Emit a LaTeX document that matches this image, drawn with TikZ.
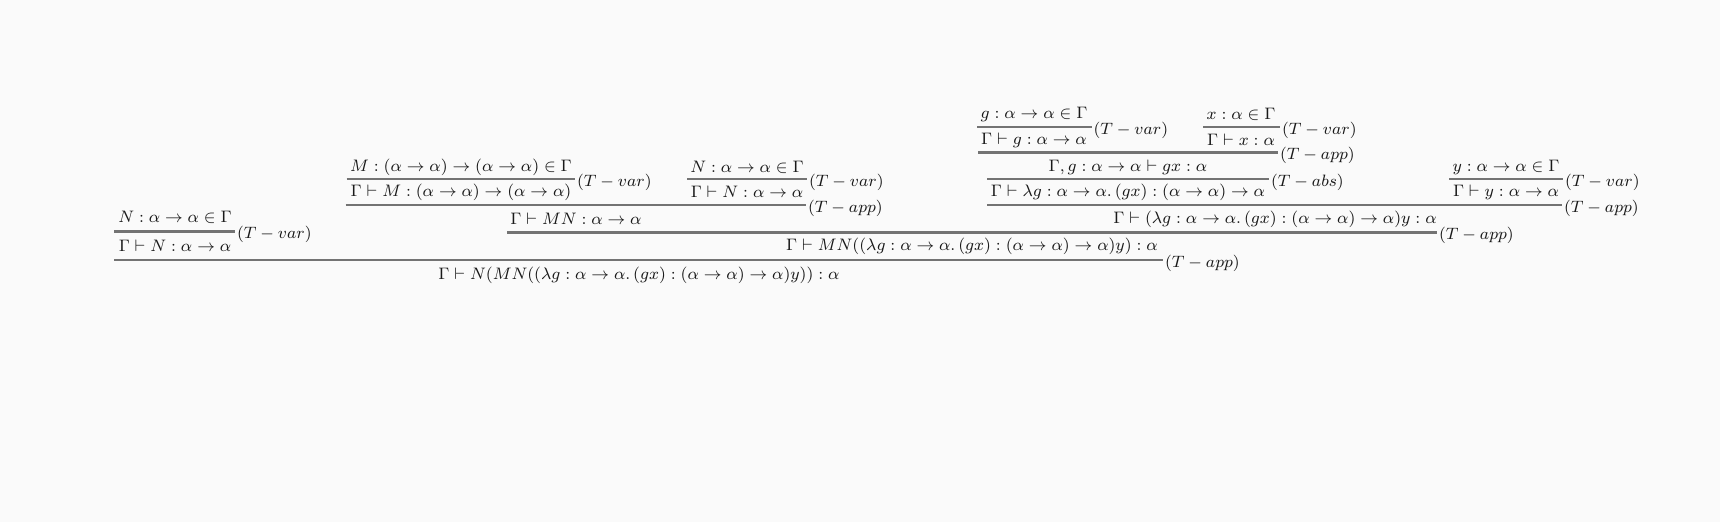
\documentclass[tikz,border=0pt]{standalone}
\usepackage{amsmath}
\usepackage{amssymb}
\usepackage{tikz}

\tikzset{
	formula/.style={inner sep=0pt, text=black!90, font=\fontsize{8}{10}\selectfont, scale=1.04},
	ruleline/.style={draw=black!55, line width=1.1pt},
	rulelabel/.style={anchor=west, inner sep=0pt, xshift=0.5pt, yshift=-1.5pt, text=black!90, font=\fontsize{8}{10}\selectfont, scale=1.03},
}

\begin{document}
\begin{tikzpicture}[x=0.5pt,y=-0.5pt]
		
		% background and size
		\fill[black!2] (0,0) rectangle (1720,522);
		
		% Node: left branch
		
		\node[formula]
		(nIn) at (175,217) {$N:\alpha\to\alpha\in\Gamma$};
		\node[formula]
		(nVar) at (175,246) {$\Gamma\vdash N:\alpha\to\alpha$};
		
		% Node: MN
		
		\node[formula]
		(mIn) at (461,167) {$M:(\alpha\to\alpha)\to(\alpha\to\alpha)\in\Gamma$};
		\node[formula]
		(mVar) at (461,192) {$\Gamma\vdash M:(\alpha\to\alpha)\to(\alpha\to\alpha)$};
		\node[formula]
		(nInB) at (747,167) {$N:\alpha\to\alpha\in\Gamma$};
		\node[formula]
		(nVarB) at (747,192) {$\Gamma\vdash N:\alpha\to\alpha$};
		\node[formula]
		(mnApp) at (576,219) {$\Gamma\vdash MN:\alpha\to\alpha$};
		
		% Node: lambda branch
		
		\node[formula]
		(gIn) at (1034,114) {$g:\alpha\to\alpha\in\Gamma$};
		\node[formula]
		(gVar) at (1034,140) {$\Gamma\vdash g:\alpha\to\alpha$};
		\node[formula]
		(xIn) at (1241,114) {$x:\alpha\in\Gamma$};
		\node[formula]
		(xVar) at (1241,140) {$\Gamma\vdash x:\alpha$};
		\node[formula]
		(gxApp) at (1128,167) {$\Gamma, g:\alpha\to\alpha\vdash gx:\alpha$};
		\node[formula]
		(lamAbs) at (1128,192) {$\Gamma\vdash\lambda g:\alpha\to\alpha.\,(gx):(\alpha\to\alpha)\to\alpha$};
		\node[formula]
		(yIn) at (1506,167) {$y:\alpha\to\alpha\in\Gamma$};
		\node[formula]
		(yVar) at (1506,192) {$\Gamma\vdash y:\alpha\to\alpha$};
		\node[formula]
		(lamApp) at (1275,219) {$\Gamma\vdash(\lambda g:\alpha\to\alpha.\,(gx):(\alpha\to\alpha)\to\alpha)y:\alpha$};
		
		% Node: conclusions
		
		\node[formula]
		(mnFull) at (972,246) {$\Gamma\vdash MN((\lambda g:\alpha\to\alpha.\,(gx):(\alpha\to\alpha)\to\alpha)y):\alpha$};
		\node[formula]
		(root) at (639,275) {$\Gamma\vdash N(MN((\lambda g:\alpha\to\alpha.\,(gx):(\alpha\to\alpha)\to\alpha)y)):\alpha$};
		
		% Rule ends
		
		\coordinate (nL) at (114,231.5);   \coordinate (nR) at (235,231.5);
		\coordinate (mL) at (346.5,179);   \coordinate (mR) at (575,179);
		\coordinate (nBL) at (687,179);    \coordinate (nBR) at (807,179);
		\coordinate (mnL) at (345.5,205);  \coordinate (mnR) at (806,205);
		\coordinate (gL) at (977,127);     \coordinate (gR) at (1091.5,127);
		\coordinate (xL) at (1203,127);    \coordinate (xR) at (1280,127);
		\coordinate (gxL) at (978,152.5);  \coordinate (gxR) at (1278,152.5);
		\coordinate (absL) at (987,179);   \coordinate (absR) at (1269,179);
		\coordinate (yL) at (1449,179);    \coordinate (yR) at (1563,179);
		\coordinate (lamL) at (987,205);   \coordinate (lamR) at (1562,205);
		\coordinate (fullL) at (507,232.5); \coordinate (fullR) at (1437,232.5);
		\coordinate (rootL) at (114,260);  \coordinate (rootR) at (1163,260);
		
		% RULES
		
		\draw[ruleline] (nL) -- (nR) node[rulelabel] (nLab) {$(T-var)$};
		\draw[ruleline] (mL) -- (mR) node[rulelabel] (mLab) {$(T-var)$};
		\draw[ruleline] (nBL) -- (nBR) node[rulelabel] (nBLab) {$(T-var)$};
		\draw[ruleline] (mnL) -- (mnR) node[rulelabel] (mnLab) {$(T-app)$};
		\draw[ruleline] (gL) -- (gR) node[rulelabel] (gLab) {$(T-var)$};
		\draw[ruleline] (xL) -- (xR) node[rulelabel] (xLab) {$(T-var)$};
		\draw[ruleline] (gxL) -- (gxR) node[rulelabel] (gxLab) {$(T-app)$};
		\draw[ruleline] (absL) -- (absR) node[rulelabel] (absLab) {$(T-abs)$};
		\draw[ruleline] (yL) -- (yR) node[rulelabel] (yLab) {$(T-var)$};
		\draw[ruleline] (lamL) -- (lamR) node[rulelabel] (lamLab) {$(T-app)$};
		\draw[ruleline] (fullL) -- (fullR) node[rulelabel] (fullLab) {$(T-app)$};
		\draw[ruleline] (rootL) -- (rootR) node[rulelabel] (rootLab) {$(T-app)$};
		
	\end{tikzpicture}
\end{document}
